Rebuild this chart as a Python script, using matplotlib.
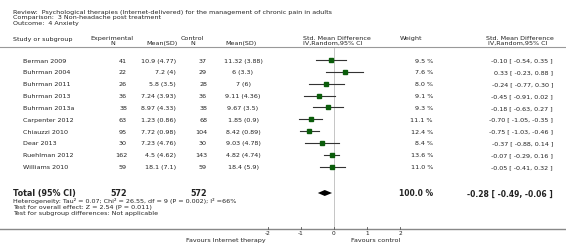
import matplotlib.pyplot as plt

studies = ['Berman 2009', 'Buhrman 2004', 'Buhrman 2011', 'Buhrman 2013', 'Buhrman 2013a',
           'Carpenter 2012', 'Chiauzzi 2010', 'Dear 2013', 'Ruehlman 2012', 'Williams 2010']
exp_n = [41, 22, 26, 36, 38, 63, 95, 30, 162, 59]
exp_mean_sd = ['10.9 (4.77)', '7.2 (4)', '5.8 (3.5)', '7.24 (3.93)', '8.97 (4.33)',
               '1.23 (0.86)', '7.72 (0.98)', '7.23 (4.76)', '4.5 (4.62)', '18.1 (7.1)']
ctl_n = [37, 29, 28, 36, 38, 68, 104, 30, 143, 59]
ctl_mean_sd = ['11.32 (3.88)', '6 (3.3)', '7 (6)', '9.11 (4.36)', '9.67 (3.5)',
               '1.85 (0.9)', '8.42 (0.89)', '9.03 (4.78)', '4.82 (4.74)', '18.4 (5.9)']
weights = [9.5, 7.6, 8.0, 9.1, 9.3, 11.1, 12.4, 8.4, 13.6, 11.0]
smd = [-0.10, 0.33, -0.24, -0.45, -0.18, -0.70, -0.75, -0.37, -0.07, -0.05]
ci_lo = [-0.54, -0.23, -0.77, -0.91, -0.63, -1.05, -1.03, -0.88, -0.29, -0.41]
ci_hi = [0.35, 0.88, 0.30, 0.02, 0.27, -0.35, -0.46, 0.14, 0.16, 0.32]
total_n = (572, 572)
total_smd, total_lo, total_hi = -0.28, -0.49, -0.06
ticks = [-2, -1, 0, 1, 2]

W, H = 566, 253
fig = plt.figure(figsize=(W / 100, H / 100), dpi=100)

# page axes in pixel units for all the text
pg = fig.add_axes([0, 0, 1, 1])
pg.set_xlim(0, W)
pg.set_ylim(H, 0)
pg.axis('off')

# forest axes: x in SMD units, y in page pixels
zero_px, unit_px = 334, 33
fa = fig.add_axes([(zero_px - 4 * unit_px) / W, 0, 8 * unit_px / W, 1])
fa.set_xlim(-4, 4)
fa.set_ylim(H, 0)
fa.axis('off')

tc = '#222222'
fs = 4.6
bfs = 5.8

def txt(x, y, s, ha='left', size=fs, weight='normal'):
    pg.text(x, y, s, ha=ha, va='center', fontsize=size, color=tc, fontweight=weight)

txt(13, 12, 'Review:  Psychological therapies (Internet-delivered) for the management of chronic pain in adults')
txt(13, 17.5, 'Comparison:  3 Non-headache post treatment')
txt(13, 23, 'Outcome:  4 Anxiety')

# column headers
txt(13, 39, 'Study or subgroup')
txt(112, 38.5, 'Experimental', ha='center')
txt(113, 43.5, 'N', ha='center')
txt(146, 43.5, 'Mean(SD)')
txt(192, 38.5, 'Control', ha='center')
txt(193, 43.5, 'N', ha='center')
txt(225, 43.5, 'Mean(SD)')
txt(303, 38.5, 'Std. Mean Difference')
txt(303, 43.5, 'IV,Random,95% CI')
txt(400, 38.5, 'Weight')
txt(486, 38.5, 'Std. Mean Difference')
txt(488, 43.5, 'IV,Random,95% CI')

pg.plot([0, W], [47.5, 47.5], color='#999999', lw=0.8)

row_y = [61 + 11.85 * i for i in range(len(studies))]

for i, y in enumerate(row_y):
    txt(23, y, studies[i])
    txt(127, y, str(exp_n[i]), ha='right')
    txt(176, y, exp_mean_sd[i], ha='right')
    txt(207, y, str(ctl_n[i]), ha='right')
    txt(243, y, ctl_mean_sd[i], ha='center')
    txt(433, y, '%.1f %%' % weights[i], ha='right')
    txt(553, y, '%.2f [ %.2f, %.2f ]' % (smd[i], ci_lo[i], ci_hi[i]), ha='right')
    fa.plot([ci_lo[i], ci_hi[i]], [y, y], color='#333333', lw=0.8, zorder=3)
    fa.plot(smd[i], y, marker='s', ms=1.6 + 0.11 * weights[i], color='#0b5d0b',
            mec='#0b5d0b', zorder=4)

# zero line
fa.plot([0, 0], [49, 230], color='#bbbbbb', lw=0.6, zorder=1)

# total
ty = 194
txt(13, ty, 'Total (95% CI)', size=bfs, weight='bold')
txt(127, ty, str(total_n[0]), ha='right', size=bfs, weight='bold')
txt(207, ty, str(total_n[1]), ha='right', size=bfs, weight='bold')
txt(433, ty, '100.0 %', ha='right', size=bfs - 0.3, weight='bold')
txt(553, ty, '%.2f [ %.2f, %.2f ]' % (total_smd, total_lo, total_hi), ha='right',
    size=bfs - 0.3, weight='bold')
fa.fill([total_lo, total_smd, total_hi, total_smd], [ty, ty - 3, ty, ty + 3],
        color='black', lw=0, zorder=4)

txt(13, 200.8, 'Heterogeneity: Tau\u00b2 = 0.07; Chi\u00b2 = 26.55, df = 9 (P = 0.002); I\u00b2 =66%')
txt(13, 207.2, 'Test for overall effect: Z = 2.54 (P = 0.011)')
txt(13, 213.3, 'Test for subgroup differences: Not applicable')

# bottom axis
pg.plot([0, W], [230, 230], color='#888888', lw=1.0)
for t in ticks:
    fa.plot([t, t], [227.5, 230], color='#555555', lw=0.6)
    fa.text(t, 233.5, str(t), ha='center', va='center', fontsize=4.2, color=tc)

txt(266, 240.7, 'Favours Internet therapy', ha='right')
txt(351, 240.7, 'Favours control')

fig.savefig('out.png', dpi=100)
